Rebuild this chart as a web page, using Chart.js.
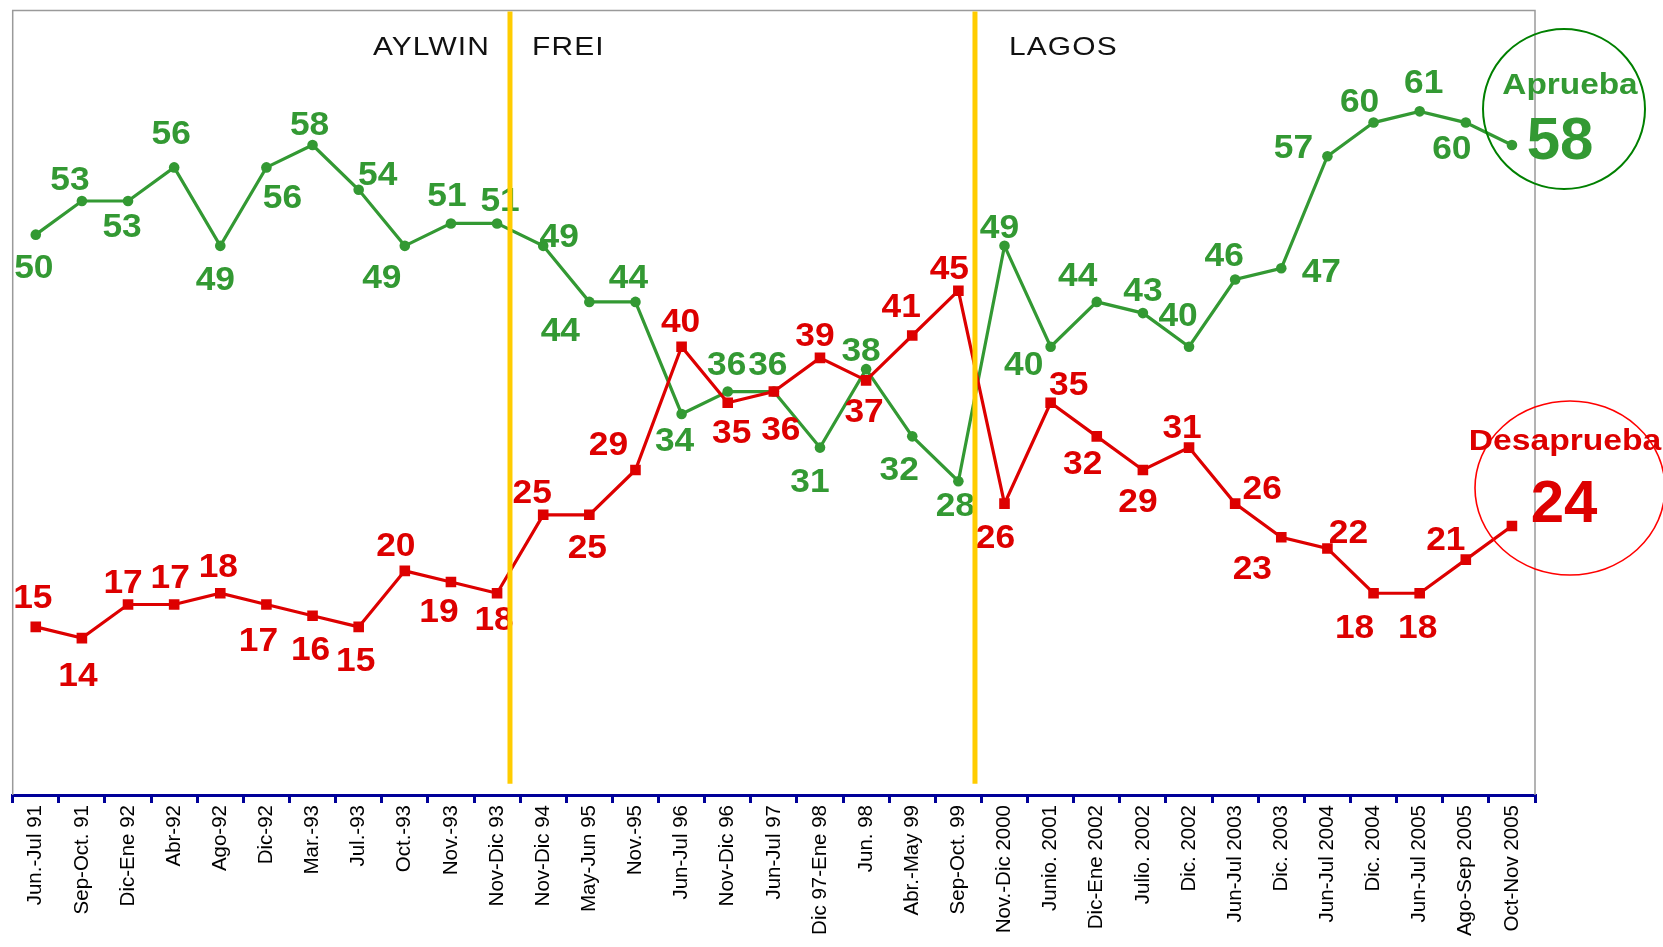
<!DOCTYPE html>
<html><head><meta charset="utf-8">
<script src="https://cdn.jsdelivr.net/npm/chart.js@4/dist/chart.umd.min.js"></script>
<style>html,body{margin:0;padding:0;background:#fff;overflow:hidden}</style>
</head><body>
<canvas id="c" width="1663" height="947"></canvas>
<script>
// ---------- DATA ----------
const categories = [
  'Jun.-Jul 91','Sep-Oct. 91','Dic-Ene 92','Abr-92','Ago-92','Dic-92','Mar.-93','Jul.-93','Oct.-93','Nov.-93','Nov-Dic 93',
  'Nov-Dic 94','May-Jun 95','Nov.-95','Jun-Jul 96','Nov-Dic 96','Jun-Jul 97','Dic 97-Ene 98','Jun. 98','Abr.-May 99','Sep-Oct. 99',
  'Nov.-Dic 2000','Junio. 2001','Dic-Ene 2002','Julio. 2002','Dic. 2002','Jun-Jul 2003','Dic. 2003','Jun-Jul 2004','Dic. 2004','Jun-Jul 2005','Ago-Sep 2005','Oct-Nov 2005'
];
const aprueba = [50,53,53,56,49,56,58,54,49,51,51,49,44,44,34,36,36,31,38,32,28,49,40,44,43,40,46,47,57,60,61,60,58];
const desaprueba = [15,14,17,17,18,17,16,15,20,19,18,25,25,29,40,35,36,39,37,41,45,26,35,32,29,31,26,23,22,18,18,21,24];
const periodNames = ['AYLWIN','FREI','LAGOS'];
const periodBreaks = [10.28, 20.36];   // fractional category positions of the term changes
const yMin = 0, yMax = 70;

// ---------- STYLE ----------
const GREEN = '#339933', RED = '#DD0000', NAVY = '#000099', YELLOW = '#FFCC00';
const FONT = '"Liberation Sans", Arial, sans-serif';
// label offsets (dx, dy of label centre from its point), last point has no label
const apruebaLabelOffset = [[-2,32],[-12,-23],[-6,24],[-3,-35],[-5,32],[16,29],[-3,-22],[19,-17],[-23,30],[-4,-29],[3,-24],
  [16,-11],[-29,27],[-7,-26],[-7,25],[-1,-28],[-6,-28],[-10,33],[-5,-20],[-13,32],[-3,23],
  [-5,-20],[-27,16],[-19,-28],[0,-24],[-11,-33],[-11,-25],[40,2],[-34,-10],[-14,-22],[4,-30],[-14,25],null];
const desapruebaLabelOffset = [[-3,-31],[-4,36],[-5,-23],[-4,-28],[-2,-28],[-8,35],[-2,33],[-3,32],[-9,-27],[-12,28],[-3,25],
  [-11,-24],[-2,31],[-27,-27],[-1,-27],[4,28],[7,37],[-5,-24],[-2,30],[-11,-30],[-9,-23],
  [-9,33],[18,-20],[-14,26],[-5,30],[-7,-21],[27,-16],[-29,30],[21,-17],[-19,33],[-2,33],[-20,-21],null];

function textStretched(ctx, txt, cx, baseline, font, color, sx, align) {
  ctx.save();
  ctx.font = font; ctx.fillStyle = color; ctx.textAlign = align || 'center'; ctx.textBaseline = 'alphabetic';
  ctx.translate(cx, baseline); ctx.scale(sx, 1);
  ctx.fillText(txt, 0, 0);
  ctx.restore();
}

const framePlugin = {
  id: 'frame',
  beforeDatasetsDraw(chart) {
    const a = chart.chartArea, ctx = chart.ctx;
    ctx.save();
    ctx.strokeStyle = '#9a9a9a'; ctx.lineWidth = 1.5;
    ctx.beginPath();
    ctx.moveTo(a.left, a.bottom); ctx.lineTo(a.left, a.top); ctx.lineTo(a.right, a.top); ctx.lineTo(a.right, a.bottom);
    ctx.stroke();
    ctx.restore();
  }
};

const labelPlugin = {
  id: 'vlabels',
  afterDatasetsDraw(chart) {
    const ctx = chart.ctx;
    const size = 33, cap = size * 0.716;
    chart.data.datasets.forEach((ds, di) => {
      const meta = chart.getDatasetMeta(di);
      const offs = ds.labelOffsets;
      meta.data.forEach((pt, i) => {
        const o = offs[i];
        if (!o) return;
        textStretched(ctx, String(ds.data[i]), pt.x + o[0], pt.y + o[1] + cap / 2,
          'bold ' + size + 'px ' + FONT, ds.borderColor, 1.07);
      });
    });
  }
};

const annotPlugin = {
  id: 'annot',
  afterDraw(chart) {
    const ctx = chart.ctx, a = chart.chartArea;
    const xs = chart.scales.x, ys = chart.scales.y;
    const bx = periodBreaks.map(v => xs.getPixelForValue(v));
    // presidency dividers
    ctx.save();
    ctx.strokeStyle = YELLOW; ctx.lineWidth = 5;
    bx.forEach(x => {
      ctx.beginPath(); ctx.moveTo(x, a.top + 1); ctx.lineTo(x, ys.getPixelForValue(1)); ctx.stroke();
    });
    ctx.restore();
    const pf = '26px ' + FONT, base = a.top + 44;
    ctx.save(); ctx.letterSpacing = '1px';
    textStretched(ctx, periodNames[0], bx[0] - 20, base, pf, '#111', 1.15, 'right');
    textStretched(ctx, periodNames[1], bx[0] + 22, base, pf, '#111', 1.15, 'left');
    textStretched(ctx, periodNames[2], bx[1] + 34, base, pf, '#111', 1.15, 'left');
    ctx.restore();

    // end-value bubbles
    const lastA = aprueba[aprueba.length - 1], lastD = desaprueba[desaprueba.length - 1];
    ctx.save();
    ctx.lineWidth = 2; ctx.strokeStyle = '#008000';
    ctx.beginPath(); ctx.ellipse(1564, 109, 81, 80, 0, 0, Math.PI * 2); ctx.stroke();
    ctx.lineWidth = 1.6; ctx.strokeStyle = '#FF0000';
    ctx.beginPath(); ctx.ellipse(1570, 488, 95, 87, 0, 0, Math.PI * 2); ctx.stroke();
    ctx.restore();
    textStretched(ctx, 'Aprueba', 1570, 94, 'bold 29px ' + FONT, GREEN, 1.15);
    textStretched(ctx, String(lastA), 1560, 159, 'bold 60px ' + FONT, GREEN, 1.0);
    textStretched(ctx, 'Desaprueba', 1565, 450, 'bold 29px ' + FONT, RED, 1.16);
    textStretched(ctx, String(lastD), 1564, 522, 'bold 60px ' + FONT, RED, 1.0);
  }
};

new Chart(document.getElementById('c').getContext('2d'), {
  type: 'line',
  data: {
    labels: categories,
    datasets: [
      { label: 'Desaprueba', data: desaprueba, labelOffsets: desapruebaLabelOffset, borderColor: RED, backgroundColor: RED,
        borderWidth: 3.2, pointStyle: 'rect', pointRadius: 7.5, pointBorderWidth: 0, tension: 0, order: 0 },
      { label: 'Aprueba', data: aprueba, labelOffsets: apruebaLabelOffset, borderColor: GREEN, backgroundColor: GREEN,
        borderWidth: 3.2, pointStyle: 'circle', pointRadius: 5.3, pointBorderWidth: 0, tension: 0, order: 1 }
    ]
  },
  options: {
    responsive: false, animation: false, devicePixelRatio: 1,
    layout: { padding: { left: 12.7, right: 128, top: 10.5, bottom: 0 } },
    plugins: { legend: { display: false }, tooltip: { enabled: false } },
    scales: {
      x: {
        offset: true,
        grid: { offset: true, drawOnChartArea: false, drawTicks: true, tickLength: 8, color: NAVY, lineWidth: 3 },
        border: { display: true, color: NAVY, width: 3 },
        ticks: { autoSkip: false, maxRotation: 90, minRotation: 90, padding: 2, color: '#000', font: { family: FONT, size: 20.5 } },
        afterFit(s) { s.height = 152; }
      },
      y: { display: false, min: yMin, max: yMax }
    }
  },
  plugins: [framePlugin, labelPlugin, annotPlugin]
});
</script>
</body></html>
